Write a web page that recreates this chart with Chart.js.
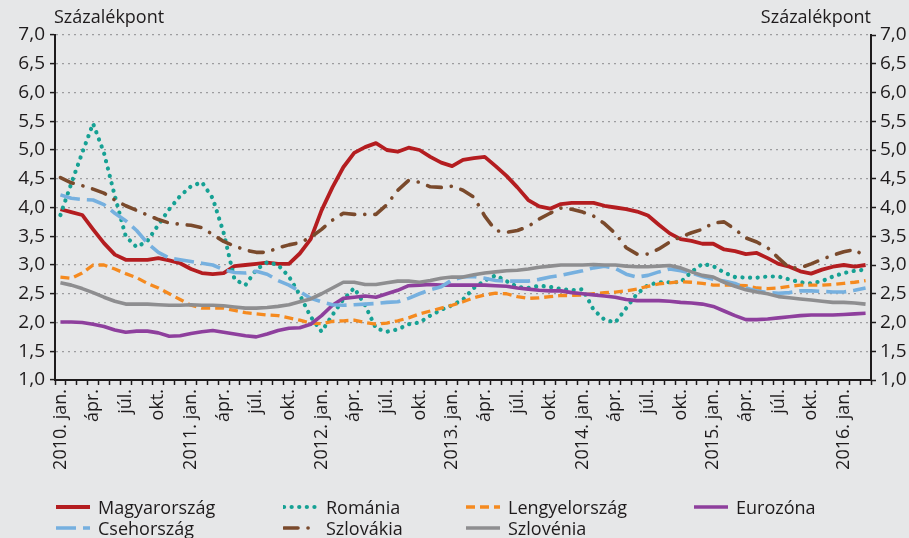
<!DOCTYPE html>
<html lang="hu">
<head>
<meta charset="utf-8">
<script src="https://cdn.jsdelivr.net/npm/chart.js@4.4.1/dist/chart.umd.min.js"></script>
<style>
  html, body { margin: 0; padding: 0; background: #e6e7e8; }
  #wrap { position: relative; width: 909px; height: 538px; font-family: "Open Sans", sans-serif; color: #1e1b1c; }
  #chart { position: absolute; left: 0; top: 0; }
  .unit { position: absolute; top: 4px; font-size: 18px; }
  .legend-item { position: absolute; height: 22px; display: flex; align-items: center; font-size: 18px; white-space: nowrap; }
  .legend-item svg { margin-right: 7px; }
</style>
</head>
<body>
<div id="wrap">
  <canvas id="chart" width="909" height="538"></canvas>
  <div class="unit" style="left:54px">Százalékpont</div>
  <div class="unit" style="right:38px">Százalékpont</div>
  <div id="legend"></div>
</div>
<script>
// Months: 2010. jan. - 2016. márc.
const categories = [
  '2010. jan.', 'febr.', 'márc.', 'ápr.', 'máj.', 'jún.', 'júl.', 'aug.', 'szept.', 'okt.', 'nov.', 'dec.',
  '2011. jan.', 'febr.', 'márc.', 'ápr.', 'máj.', 'jún.', 'júl.', 'aug.', 'szept.', 'okt.', 'nov.', 'dec.',
  '2012. jan.', 'febr.', 'márc.', 'ápr.', 'máj.', 'jún.', 'júl.', 'aug.', 'szept.', 'okt.', 'nov.', 'dec.',
  '2013. jan.', 'febr.', 'márc.', 'ápr.', 'máj.', 'jún.', 'júl.', 'aug.', 'szept.', 'okt.', 'nov.', 'dec.',
  '2014. jan.', 'febr.', 'márc.', 'ápr.', 'máj.', 'jún.', 'júl.', 'aug.', 'szept.', 'okt.', 'nov.', 'dec.',
  '2015. jan.', 'febr.', 'márc.', 'ápr.', 'máj.', 'jún.', 'júl.', 'aug.', 'szept.', 'okt.', 'nov.', 'dec.',
  '2016. jan.', 'febr.', 'márc.'
];

const yTicks = [1.0, 1.5, 2.0, 2.5, 3.0, 3.5, 4.0, 4.5, 5.0, 5.5, 6.0, 6.5, 7.0];

const magyarorszag = [
  3.97, 3.92, 3.87, 3.62, 3.38, 3.18, 3.09, 3.09, 3.09, 3.12, 3.08, 3.03,
  2.93, 2.86, 2.84, 2.86, 2.98, 3.0, 3.02, 3.04, 3.02, 3.02, 3.2, 3.45,
  3.95, 4.35, 4.7, 4.95, 5.05, 5.12, 5.0, 4.97, 5.04, 5.0, 4.88, 4.78,
  4.72, 4.83, 4.86, 4.88, 4.72, 4.55, 4.35, 4.13, 4.02, 3.98, 4.06, 4.08,
  4.08, 4.08, 4.03, 4.0, 3.97, 3.93, 3.86, 3.7, 3.55, 3.45, 3.42, 3.37,
  3.37, 3.27, 3.24, 3.19, 3.21, 3.12, 3.02, 2.97, 2.89, 2.85, 2.92, 2.97,
  3.0, 2.97, 3.0
];
const romania = [
  3.87, 4.42, 4.95, 5.46, 4.95, 4.2, 3.5, 3.31, 3.42, 3.7, 3.97, 4.2,
  4.37, 4.44, 4.16, 3.56, 2.75, 2.65, 2.92, 3.05, 3.0, 2.8, 2.48, 2.1,
  1.84, 2.13, 2.4, 2.6, 2.3, 1.9, 1.84, 1.88, 1.97, 2.0, 2.12, 2.22,
  2.3, 2.4, 2.6, 2.73, 2.82, 2.72, 2.62, 2.6, 2.64, 2.62, 2.58, 2.56,
  2.58, 2.22, 2.05, 2.0, 2.25, 2.5, 2.65, 2.7, 2.7, 2.7, 2.88, 3.02,
  2.98, 2.87, 2.79, 2.78, 2.78, 2.8, 2.8, 2.75, 2.7, 2.68, 2.72, 2.8,
  2.86, 2.9, 2.92
];
const lengyelorszag = [
  2.79, 2.77, 2.86, 3.0, 3.0, 2.93, 2.85, 2.78, 2.68, 2.6, 2.5, 2.4,
  2.3, 2.25, 2.25, 2.25, 2.21, 2.17, 2.15, 2.13, 2.12, 2.08, 2.04, 1.99,
  1.98, 2.02, 2.03, 2.04, 2.0, 1.97, 1.99, 2.03, 2.08, 2.15, 2.2, 2.25,
  2.3, 2.36, 2.43, 2.48, 2.51, 2.5, 2.45, 2.42, 2.43, 2.45, 2.47, 2.47,
  2.48, 2.5, 2.52, 2.53, 2.55, 2.58, 2.63, 2.67, 2.69, 2.71, 2.7, 2.68,
  2.65, 2.65, 2.65, 2.64, 2.6, 2.59, 2.6, 2.63, 2.65, 2.65, 2.65, 2.66,
  2.68, 2.7, 2.73
];
const eurozona = [
  2.01, 2.01, 2.0, 1.97, 1.93, 1.87, 1.83, 1.85, 1.85, 1.82, 1.76, 1.77,
  1.81, 1.84, 1.86, 1.83, 1.8, 1.77, 1.75, 1.8, 1.86, 1.9, 1.91, 1.97,
  2.12, 2.3, 2.42, 2.44, 2.46, 2.44, 2.5, 2.56, 2.64, 2.65, 2.66, 2.65,
  2.65, 2.65, 2.65, 2.65, 2.64, 2.63, 2.6, 2.58, 2.56, 2.55, 2.55, 2.52,
  2.5, 2.48, 2.46, 2.44, 2.4, 2.38, 2.38, 2.38, 2.37, 2.35, 2.34, 2.32,
  2.28, 2.2, 2.12, 2.05, 2.05, 2.06, 2.08, 2.1, 2.12, 2.13, 2.13, 2.13,
  2.14, 2.15, 2.16
];
const csehorszag = [
  4.22, 4.16, 4.14, 4.13, 4.05, 3.9, 3.77, 3.6, 3.38, 3.22, 3.12, 3.09,
  3.06, 3.03, 3.0, 2.92, 2.87, 2.86, 2.89, 2.84, 2.73, 2.65, 2.54, 2.42,
  2.36, 2.31, 2.3, 2.31, 2.32, 2.33, 2.35, 2.36, 2.42, 2.5, 2.57, 2.62,
  2.74, 2.79, 2.8, 2.77, 2.73, 2.72, 2.72, 2.72, 2.75, 2.79, 2.82, 2.86,
  2.9, 2.95, 2.98, 2.94, 2.84, 2.79, 2.82, 2.88, 2.93, 2.9, 2.86, 2.8,
  2.75, 2.72, 2.68, 2.6, 2.55, 2.52, 2.51, 2.52, 2.55, 2.55, 2.54, 2.53,
  2.53, 2.56, 2.6
];
const szlovakia = [
  4.52, 4.43, 4.38, 4.32, 4.25, 4.13, 4.03, 3.95, 3.87, 3.79, 3.73, 3.71,
  3.69, 3.65, 3.53, 3.41, 3.33, 3.26, 3.22, 3.22, 3.3, 3.35, 3.39, 3.48,
  3.62, 3.78, 3.9, 3.88, 3.88, 3.88, 4.05, 4.3, 4.47, 4.44, 4.36, 4.35,
  4.37, 4.3, 4.18, 3.85, 3.6, 3.57, 3.6, 3.67, 3.8, 3.9, 3.99, 3.97,
  3.92, 3.85, 3.72, 3.55, 3.3, 3.19, 3.19, 3.28, 3.4, 3.49, 3.56, 3.62,
  3.73, 3.75, 3.62, 3.47, 3.4, 3.3, 3.12, 2.95, 2.95, 3.02, 3.1, 3.17,
  3.23, 3.27, 3.14
];
const szlovenia = [
  2.69, 2.65, 2.59, 2.52, 2.44, 2.37, 2.32, 2.32, 2.32, 2.31, 2.3, 2.3,
  2.31, 2.3, 2.3, 2.29, 2.27, 2.25, 2.25, 2.26, 2.28, 2.31, 2.36, 2.41,
  2.5, 2.6, 2.7, 2.7, 2.66, 2.66, 2.69, 2.72, 2.72, 2.7, 2.73, 2.77,
  2.79, 2.79, 2.83, 2.86, 2.88, 2.9, 2.91, 2.93, 2.96, 2.98, 3.0, 3.0,
  3.0, 3.01, 3.0, 3.0, 2.98, 2.97, 2.97, 2.98, 2.99, 2.95, 2.88, 2.82,
  2.79, 2.7, 2.63, 2.57, 2.53, 2.5, 2.45, 2.43, 2.41, 2.39, 2.37, 2.35,
  2.35, 2.34, 2.32
];

// series styles (legend order)
const series = [
  { label: 'Magyarország', data: magyarorszag, color: '#b41d20', width: 3.8, dash: [], cap: 'butt' },
  { label: 'Románia', data: romania, color: '#16a194', width: 4.2, dash: [0.1, 7.5], cap: 'round' },
  { label: 'Lengyelország', data: lengyelorszag, color: '#f58a1f', width: 3.3, dash: [9, 5], cap: 'butt' },
  { label: 'Eurozóna', data: eurozona, color: '#8e3f9d', width: 3.6, dash: [], cap: 'butt' },
  { label: 'Csehország', data: csehorszag, color: '#76b0df', width: 3.6, dash: [20, 7], cap: 'butt' },
  { label: 'Szlovákia', data: szlovakia, color: '#7a4a2c', width: 3.6, dash: [14, 10, 0.1, 10], cap: 'round' },
  { label: 'Szlovénia', data: szlovenia, color: '#8e8e90', width: 3.6, dash: [], cap: 'butt' }
];

const fmt = v => v.toFixed(1).replace('.', ',');
const textColor = '#1e1b1c';

Chart.defaults.font.family = "'Open Sans', sans-serif";
Chart.defaults.color = textColor;

const ctx = document.getElementById('chart').getContext('2d');
new Chart(ctx, {
  type: 'line',
  data: {
    labels: categories,
    datasets: series.map((s, i) => ({
      label: s.label,
      data: s.data,
      borderColor: s.color,
      backgroundColor: s.color,
      borderWidth: s.width,
      borderDash: s.dash,
      borderCapStyle: s.cap,
      borderJoinStyle: 'round',
      pointRadius: 0,
      tension: 0,
      fill: false,
      order: series.length - i   // later series on top
    }))
  },
  options: {
    responsive: false,
    animation: false,
    layout: { padding: { top: 35, left: 0, right: 0, bottom: 0 } },
    plugins: {
      legend: { display: false },
      tooltip: { enabled: false }
    },
    scales: {
      x: {
        offset: true,
        grid: {
          offset: true,
          drawOnChartArea: false,
          tickLength: 5,
          tickColor: textColor,
          tickWidth: 1.5
        },
        border: { color: textColor, width: 2 },
        ticks: {
          autoSkip: false,
          minRotation: 90,
          maxRotation: 90,
          padding: 4,
          font: { size: 18 },
          callback: (v, i) => (i % 3 === 0 ? categories[i] : '')
        },
        afterFit: scale => { scale.height = 158; }
      },
      y: {
        position: 'left',
        min: 1,
        max: 7,
        afterBuildTicks: scale => { scale.ticks = yTicks.map(v => ({ value: v })); },
        grid: {
          color: '#9d9d9f',
          lineWidth: 1.2,
          tickLength: 5,
          tickColor: textColor,
          tickWidth: 1.5
        },
        border: { color: textColor, width: 2, dash: [2, 4] },
        ticks: { padding: 5, font: { size: 19 }, callback: v => fmt(v) },
        afterFit: scale => { scale.width = 55; }
      },
      y2: {
        position: 'right',
        min: 1,
        max: 7,
        afterBuildTicks: scale => { scale.ticks = yTicks.map(v => ({ value: v })); },
        grid: {
          drawOnChartArea: false,
          tickLength: 5,
          tickColor: textColor,
          tickWidth: 1.5
        },
        border: { color: textColor, width: 2 },
        ticks: { padding: 4, font: { size: 19 }, callback: v => fmt(v) },
        afterFit: scale => { scale.width = 38; }
      }
    }
  }
});

// Legend (HTML, two rows)
const legendPos = [[55, 507], [283, 507], [465, 507], [693, 507], [55, 528], [283, 528], [465, 528]];
const legend = document.getElementById('legend');
series.forEach((s, i) => {
  const [x, y] = legendPos[i];
  const item = document.createElement('div');
  item.className = 'legend-item';
  item.style.left = x + 'px';
  item.style.top = (y - 11) + 'px';
  const dash = s.dash.length ? `stroke-dasharray="${s.dash.join(' ')}"` : '';
  item.innerHTML = `<svg width="36" height="8"><line x1="1" y1="4" x2="35" y2="4" stroke="${s.color}" stroke-width="${s.width}" stroke-linecap="${s.cap}" ${dash}/></svg><span>${s.label}</span>`;
  legend.appendChild(item);
});
</script>
</body>
</html>
